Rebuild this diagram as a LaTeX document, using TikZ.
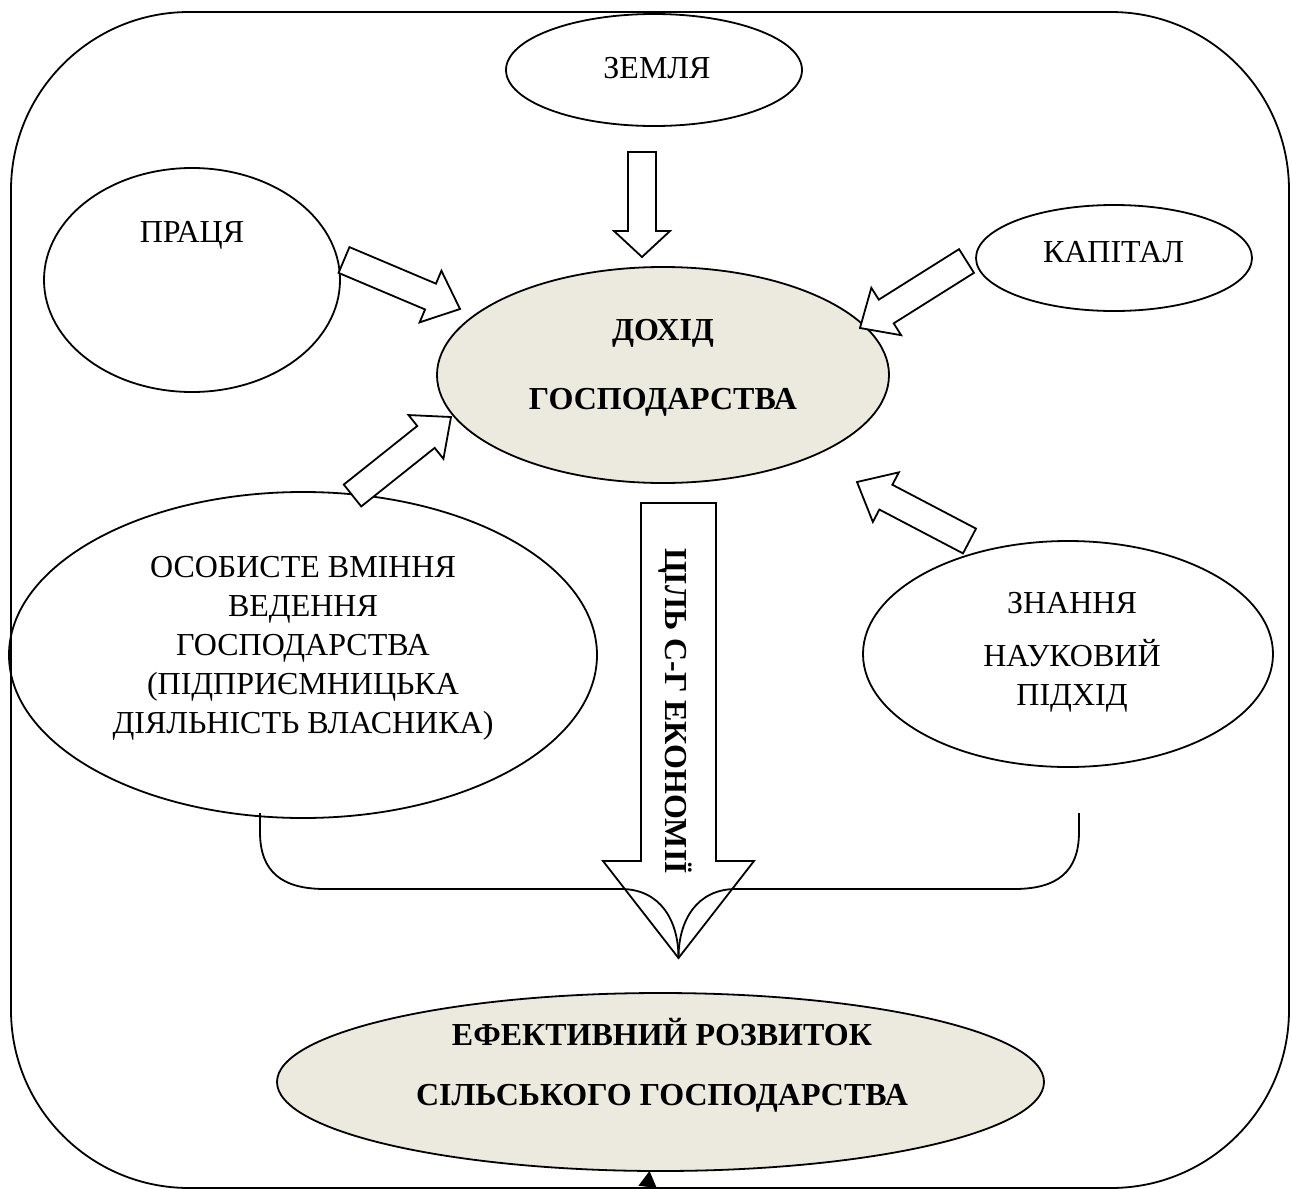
\documentclass[tikz,border=0pt]{standalone}
\usepackage{fontspec}
\setmainfont{Liberation Serif}
\usetikzlibrary{shapes.geometric,calc,arrows.meta}
\definecolor{beige}{RGB}{236,234,223}
\tikzset{
  ell/.style={draw, ellipse, line width=0.9pt, inner sep=0pt, outer sep=0pt},
  blk/.style={draw, fill=white, line width=0.9pt, line join=miter},
  lbl/.style={font=\fontsize{16}{19.4}\selectfont, inner sep=0pt, align=center},
  blbl/.style={font=\fontsize{16}{19.4}\selectfont\bfseries, inner sep=0pt, align=center},
  thin line/.style={line width=0.9pt},
}
\newcommand\blkarrow[5]{%
  \path ($(#2)!#5!(#1)$) coordinate (hb);
  \draw[blk] ($(#1)!#3!90:(#2)$) -- ($(hb)!#3!90:(#2)$) -- ($(hb)!#4!90:(#2)$) -- (#2)
     -- ($(hb)!#4!-90:(#2)$) -- ($(hb)!#3!-90:(#2)$) -- ($(#1)!#3!-90:(#2)$) -- cycle;}
\begin{document}
\begin{tikzpicture}[x=0.5pt,y=-0.5pt]
\useasboundingbox (0,0) rectangle (1291,1189);
% frame
\draw[thin line, rounded corners=89pt] (11,12) rectangle (1289,1188);
% ellipses
\node[ell, minimum width=148pt, minimum height=56pt] (zem) at (654,70) {};
\node[ell, minimum width=148pt, minimum height=112pt] (prac) at (192,280) {};
\node[ell, minimum width=138pt, minimum height=53pt] (kap) at (1114,258) {};
\node[ell, fill=beige, minimum width=226pt, minimum height=108pt] (doh) at (663,375) {};
\node[ell, minimum width=294pt, minimum height=163pt] (osob) at (303,655) {};
\node[ell, minimum width=205pt, minimum height=113pt] (znan) at (1068,654) {};
\node[ell, fill=beige, minimum width=383.5pt, minimum height=89pt] (eff) at (660.5,1082) {};
% texts (multi-line nodes: base = baseline of the last line)
\node[lbl, anchor=base] (tzem) at (657,78) {ЗЕМЛЯ};
\node[lbl, anchor=base] (tprac) at (192,242) {ПРАЦЯ};
\node[lbl, anchor=base] (tkap) at (1113.5,262) {КАПІТАЛ};
\node[blbl, anchor=base] (tdoh) at (663,409) {ДОХІД\\[15pt]ГОСПОДАРСТВА};
\node[lbl, anchor=base] (tosob) at (303,733) {ОСОБИСТЕ ВМІННЯ\\ВЕДЕННЯ\\ГОСПОДАРСТВА\\(ПІДПРИЄМНИЦЬКА\\ДІЯЛЬНІСТЬ ВЛАСНИКА)};
\node[lbl, anchor=base] (tznan) at (1072,705) {ЗНАННЯ\\[7pt]НАУКОВИЙ\\ПІДХІД};
\node[blbl, anchor=base] (teff) at (662,1105) {ЕФЕКТИВНИЙ РОЗВИТОК\\[10.6pt]СІЛЬСЬКОГО ГОСПОДАРСТВА};
% block arrows
\coordinate (a1t) at (642,152); \coordinate (a1h) at (642,257);
\blkarrow{a1t}{a1h}{7pt}{14pt}{13pt}
\coordinate (a2t) at (344,260); \coordinate (a2h) at (460,309);
\blkarrow{a2t}{a2h}{7pt}{14pt}{16pt}
\coordinate (a3t) at (966.5,261); \coordinate (a3h) at (860,328);
\blkarrow{a3t}{a3h}{7pt}{14pt}{15.5pt}
\coordinate (a4t) at (352.5,495.5); \coordinate (a4h) at (451,417);
\blkarrow{a4t}{a4h}{7pt}{14pt}{16pt}
\coordinate (a5t) at (969.5,541); \coordinate (a5h) at (857,482);
\blkarrow{a5t}{a5h}{7pt}{14pt}{16.3pt}
\coordinate (a6t) at (678.5,503); \coordinate (a6h) at (678.5,958);
\blkarrow{a6t}{a6h}{18.75pt}{37.75pt}{48.5pt}
% brace
\coordinate (brL) at (260,813); \coordinate (brR) at (1079,813);
\draw[thin line] (brL) -- (260,832) .. controls (260,872) and (282,889) .. (325,889)
  -- (621,889) .. controls (660,889) and (678.5,920) .. (a6h);
\draw[thin line] (brR) -- (1079,832) .. controls (1079,872) and (1057,889) .. (1014,889)
  -- (736,889) .. controls (697,889) and (678.5,920) .. (a6h);
% rotated label
\node[blbl, rotate=-90, anchor=base] (tcil) at (665,711) {ЦІЛЬ С-Г ЕКОНОМІЇ};
% bottom arrow
\coordinate (bsrc) at (641,1240);
\draw[thin line, -{Triangle[length=8pt,width=9pt]}] (bsrc) -- (eff);
\end{tikzpicture}
\end{document}
